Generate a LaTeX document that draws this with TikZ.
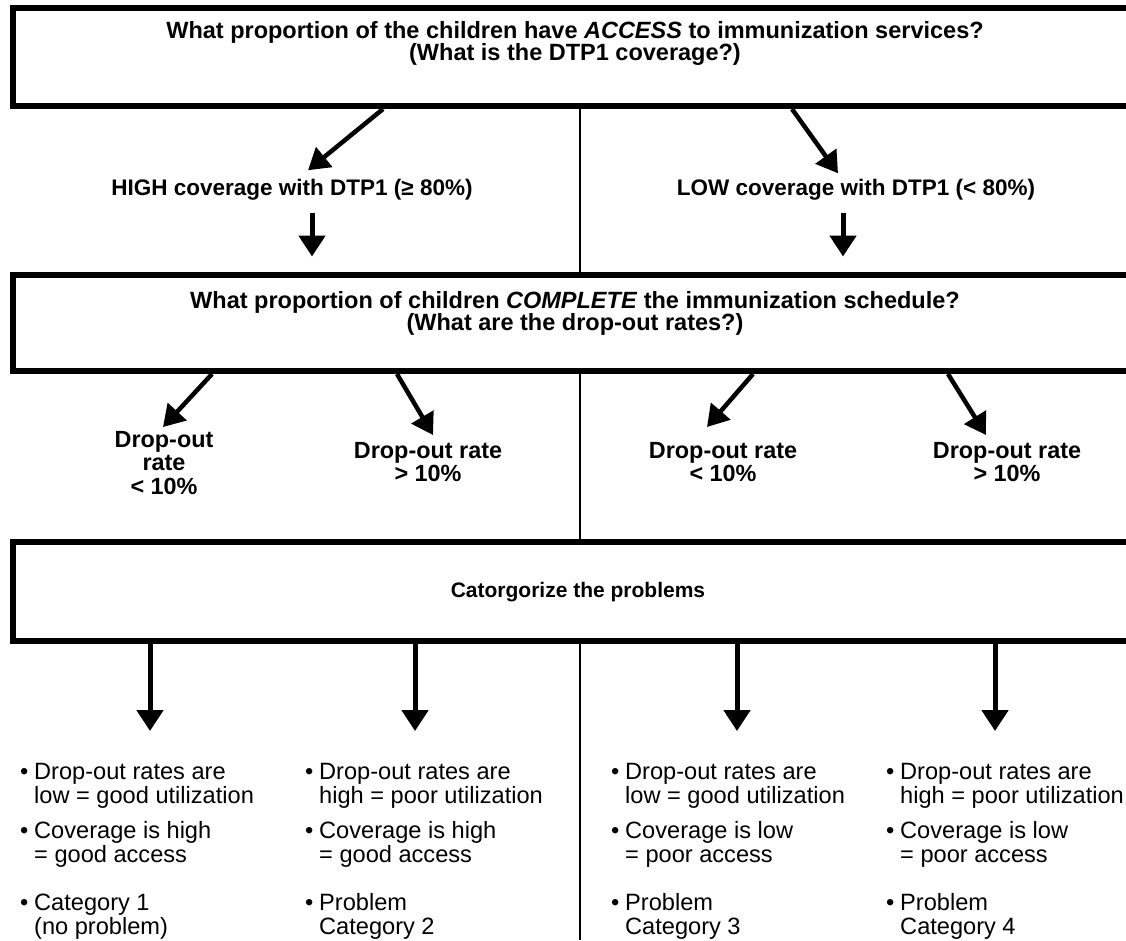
\documentclass[tikz,border=0pt]{standalone}
\usepackage{fontspec}
\setmainfont{Liberation Sans}
\usetikzlibrary{arrows.meta}
\newcommand{\bitem}[2]{\makebox[14pt][l]{•}#1\\\hspace*{14pt}#2}
\begin{document}
\begin{tikzpicture}[x=1pt,y=-1pt]
        \tikzstyle{qbox}=[draw,line width=6pt,rectangle,minimum width=1127pt,inner sep=0pt]
        \tikzstyle{qtext}=[align=center,inner sep=0pt,font=\fontsize{23.5}{22}\selectfont\bfseries]
        \tikzstyle{level}=[align=center,inner sep=0pt,font=\fontsize{22.5}{22}\selectfont\bfseries]
        \tikzstyle{rate}=[align=center,inner sep=0pt,anchor=north,font=\fontsize{23.4}{23.5}\selectfont\bfseries]
        \tikzstyle{bullets}=[align=left,inner sep=0pt,anchor=north west,font=\fontsize{23.6}{24}\selectfont]
        \tikzstyle{diag}=[draw,line width=4.5pt,-{Triangle[length=21pt,width=25pt]}]
        \tikzstyle{down}=[draw,line width=5pt,-{Triangle[length=21pt,width=26pt]}]
        \tikzstyle{divider}=[draw,line width=2pt]
        \useasboundingbox (0,0) rectangle (1126,940);
       % access
       \begin{scope}
         \node [qbox,minimum height=98pt] (q1) at (576.75,57) {};
         \node [qtext] (q1t) at (575,43) {What proportion of the children have \textit{ACCESS} to immunization services?\\(What is the DTP1 coverage?)};
         \node [level] (hi) at (292,190) {HIGH coverage with DTP1 (≥ 80\%)};
         \node [level] (lo) at (856,190) {LOW coverage with DTP1 (< 80\%)};
         \path[diag] (q1.south -| 383,0) -- ([yshift=9pt]hi.north -| 308,0);
         \path[diag] (q1.south -| 792,0) -- ([yshift=6pt]lo.north -| 838,0);
        \end{scope}
       % completion
       \begin{scope}
         \node [qbox,minimum height=96.5pt] (q2) at (576.75,322.75) {};
         \node [qtext] (q2t) at (575,313) {What proportion of children \textit{COMPLETE} the immunization schedule?\\(What are the drop-out rates?)};
         \path[down] ([yshift=-12pt]hi.south -| 312,0) -- ([yshift=15pt]q2.north -| 312,0);
         \path[down] ([yshift=-12pt]lo.south -| 843,0) -- ([yshift=15pt]q2.north -| 843,0);
         \node [rate] (r1) at (164,431) {Drop-out\\rate\\< 10\%};
         \node [rate] (r2) at (428,442) {Drop-out rate\\> 10\%};
         \node [rate] (r3) at (723,442) {Drop-out rate\\< 10\%};
         \node [rate] (r4) at (1007,442) {Drop-out rate\\> 10\%};
         \path[diag] (q2.south -| 212,0) -- ([yshift=4pt]r1.north -| 163,0);
         \path[diag] (q2.south -| 397,0) -- ([yshift=7pt]r2.north -| 433,0);
         \path[diag] (q2.south -| 753,0) -- ([yshift=15pt]r3.north -| 707,0);
         \path[diag] (q2.south -| 948,0) -- ([yshift=7pt]r4.north -| 986,0);
        \end{scope}
       % categories
       \begin{scope}
         \node [qbox,minimum height=99pt] (q3) at (576.75,591.5) {};
         \node [qtext,font=\fontsize{21}{22}\selectfont\bfseries] (q3t) at (578,592) {Catorgorize the problems};
         \node [bullets] (c1) at (20,763) {\bitem{Drop-out rates are}{low = good utilization}\\[11pt]\bitem{Coverage is high}{= good access}\\[24pt]\bitem{Category 1}{(no problem)}};
         \node [bullets] (c2) at (305,763) {\bitem{Drop-out rates are}{high = poor utilization}\\[11pt]\bitem{Coverage is high}{= good access}\\[24pt]\bitem{Problem}{Category 2}};
         \node [bullets] (c3) at (611,763) {\bitem{Drop-out rates are}{low = good utilization}\\[11pt]\bitem{Coverage is low}{= poor access}\\[24pt]\bitem{Problem}{Category 3}};
         \node [bullets] (c4) at (886,763) {\bitem{Drop-out rates are}{high = poor utilization}\\[11pt]\bitem{Coverage is low}{= poor access}\\[24pt]\bitem{Problem}{Category 4}};
         \path[down] (q3.south -| 150,0) -- ([yshift=32pt]c1.north -| 150,0);
         \path[down] (q3.south -| 415,0) -- ([yshift=32pt]c2.north -| 415,0);
         \path[down] (q3.south -| 737,0) -- ([yshift=32pt]c3.north -| 737,0);
         \path[down] (q3.south -| 995,0) -- ([yshift=32pt]c4.north -| 995,0);
        \end{scope}
       % middle line
         \coordinate (bottom) at (580,940);
         \path[divider] (q1.south -| bottom) -- (q2.north -| bottom);
         \path[divider] (q2.south -| bottom) -- (q3.north -| bottom);
         \path[divider] (q3.south -| bottom) -- (bottom);
      \end{tikzpicture}
\end{document}
